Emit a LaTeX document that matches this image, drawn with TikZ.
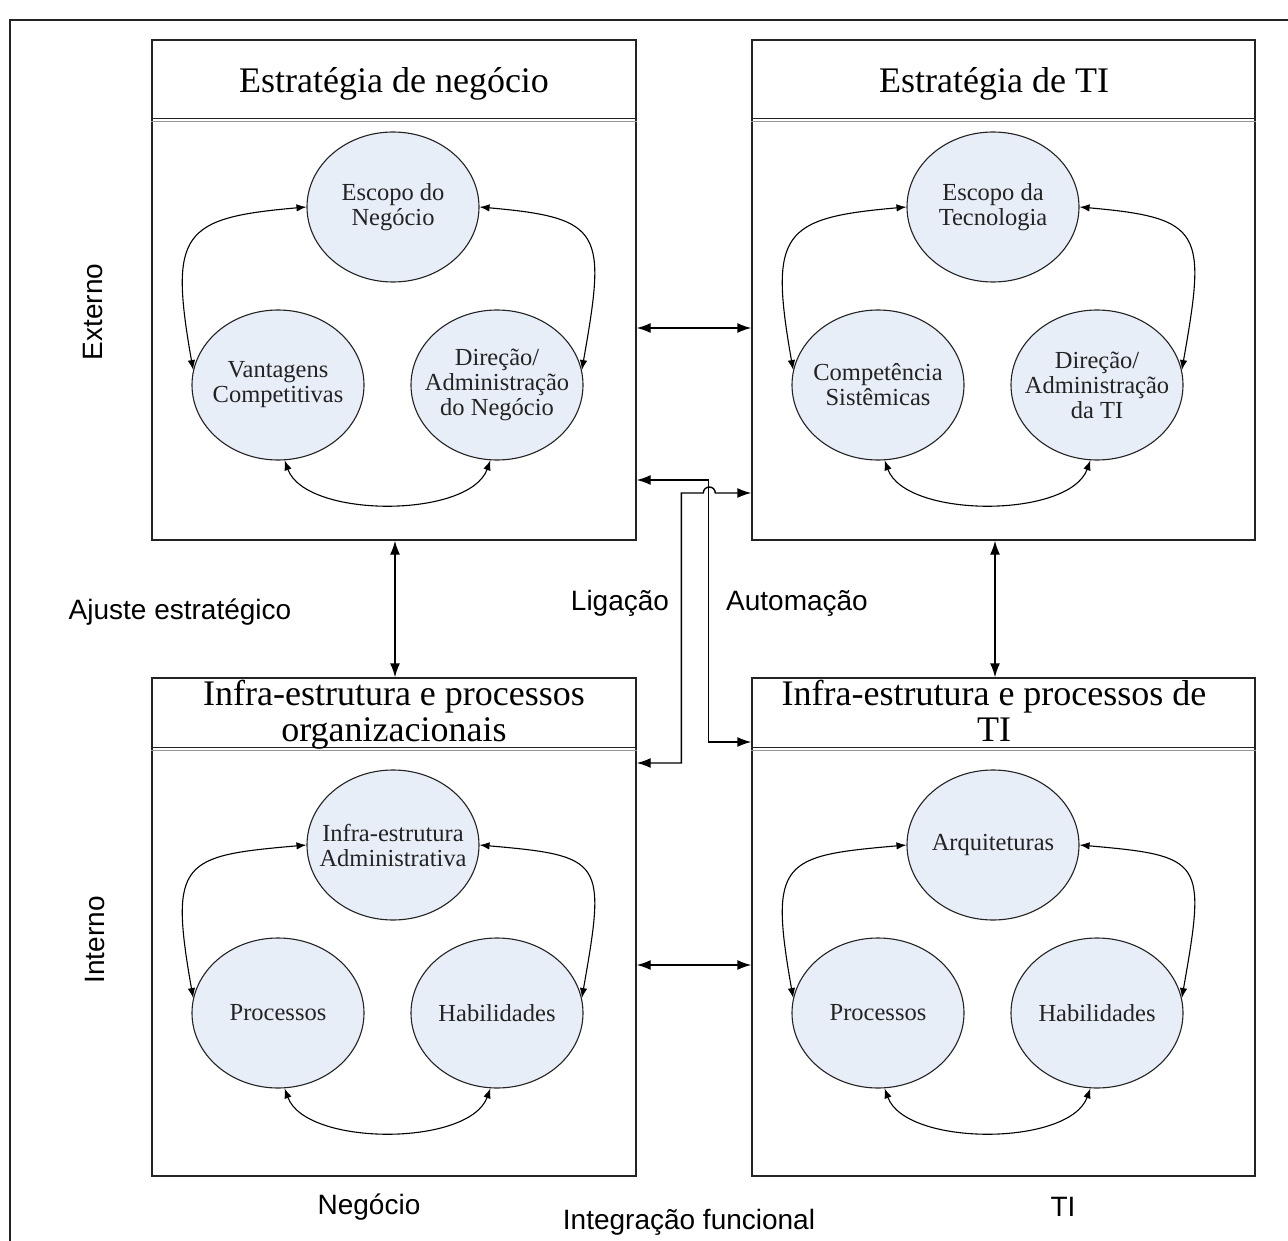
\documentclass[tikz,border=0pt]{standalone}
\usepackage{fontspec}
\setmainfont{Liberation Serif}
\newfontfamily\labelfont{Liberation Sans}
\usetikzlibrary{shapes.geometric,arrows.meta,calc}
\definecolor{bubblefill}{RGB}{232,238,247}
\definecolor{ink}{RGB}{35,35,35}
\definecolor{shade}{RGB}{150,150,150}
\tikzset{
  panel/.style={rectangle, draw=ink, line width=1.4pt, inner sep=0pt},
  divider/.style={draw=ink, line width=1.3pt},
  divshade/.style={draw=shade, line width=0.8pt},
  frameline/.style={draw=ink, line width=1.5pt},
  bubbletext/.style={align=center, inner sep=0pt, text=ink, font=\fontsize{24.5}{25}\selectfont},
  bubble/.style={ellipse, draw=ink, line width=1.1pt, fill=bubblefill,
    minimum width=172pt, minimum height=150pt, inner sep=0pt},
  cyc/.style={line width=1.1pt, {Latex[length=10pt,width=7.5pt]}-{Latex[length=10pt,width=7.5pt]}},
  conn/.style={line width=1.4pt, {Latex[length=14pt,width=10pt]}-{Latex[length=14pt,width=10pt]}},
  headtext/.style={align=center, inner sep=0pt, font=\fontsize{36}{36}\selectfont},
  tag/.style={inner sep=0pt, font=\labelfont\fontsize{28}{30}\selectfont},
  pics/triad/.style n args={4}{code={
    \node[bubble, label={[bubbletext]center:{#1}}] (-t) at (0,0) {};
    \node[bubble, label={[bubbletext]center:{#2}}] (-l) at (-115,-#4) {};
    \node[bubble, label={[bubbletext]center:{#3}}] (-r) at (104,-#4) {};
    \draw[cyc] (-t.180) .. controls +(185:125) and +(100:140) .. (-l.170);
    \draw[cyc] (-t.0) .. controls +(-5:125) and +(80:140) .. (-r.10);
    \draw[cyc] (-l.-85) .. controls +(-70:62) and +(-110:62) .. (-r.-95);
  }}
}
\begin{document}
\begin{tikzpicture}[x=1pt,y=1pt]
\useasboundingbox (0,0) rectangle (1288,-1241);
\fill[white] (0,0) rectangle (1288,-1241);

% outer frame (top and left edges)
\draw[frameline] (10,-1241) -- (10,-20) -- (1288,-20);

% the four panels
\node[panel, minimum width=484pt, minimum height=500pt] (tl) at (394,-290) {};
\node[panel, minimum width=503pt, minimum height=500pt] (tr) at (1003.5,-290) {};
\node[panel, minimum width=484pt, minimum height=498pt] (bl) at (394,-927) {};
\node[panel, minimum width=503pt, minimum height=498pt] (br) at (1003.5,-927) {};

% header dividers
\foreach \b/\d in {tl/79pt, tr/79pt, bl/70pt, br/70pt}{
  \draw[divider] ([yshift=-\d]\b.north west) -- ([yshift=-\d]\b.north east);
  \draw[divshade] ([yshift=-\d-3pt]\b.north west) -- ([yshift=-\d-3pt]\b.north east);
}

% header titles
\node[headtext, anchor=base] (tlh) at (394,-93) {Estratégia de negócio};
\node[headtext, anchor=base] (trh) at (994,-93) {Estratégia de TI};
\node[headtext, anchor=base] (blh) at (394,-741) {Infra-estrutura e processos\\organizacionais};
\node[headtext, anchor=base] (brh) at (994,-741) {Infra-estrutura e processos de\\TI};

% the circle triads
\pic (tlc) at (393,-207) {triad={Escopo do\\Negócio}{Vantagens\\Competitivas}{Direção/\\Administração\\do Negócio}{178}};
\pic (trc) at (993,-207) {triad={Escopo da\\Tecnologia}{Competência\\Sistêmicas}{Direção/\\Administração\\da TI}{178}};
\pic (blc) at (393,-845) {triad={Infra-estrutura\\Administrativa}{Processos}{Habilidades}{168}};
\pic (brc) at (993,-845) {triad={Arquiteturas}{Processos}{Habilidades}{168}};

% links between panels
\draw[conn] ([yshift=-38pt]tl.east) -- ([yshift=-38pt]tr.west);
\draw[conn] ([yshift=-38pt]bl.east) -- ([yshift=-38pt]br.west);
\draw[conn] ([xshift=1pt]tl.south) -- ([xshift=1pt]bl.north);
\draw[conn] ([xshift=-8.5pt]tr.south) -- ([xshift=-8.5pt]br.north);

% cross links (automation and linkage)
\draw[conn] ([yshift=-190pt]tl.east) -- ++(72,0) |- ([yshift=185pt]br.west);
\draw[conn] ([yshift=-203pt]tr.west) -- ++(-36,0)
  arc[start angle=0, end angle=180, radius=6] -- ++(-22,0) |- ([yshift=164pt]bl.east);

% axis labels
\node[tag, rotate=90] (ext) at (93,-312) {Externo};
\node[tag, rotate=90] (int) at (95,-940) {Interno};
\node[tag] (fit) at (180,-612) {Ajuste estratégico};
\node[tag] (lig) at (620,-603) {Ligação};
\node[tag] (aut) at (797,-603) {Automação};
\node[tag] (neg) at (369,-1207) {Negócio};
\node[tag] (tix) at (1063,-1207) {TI};
\node[tag] (intf) at (689,-1222) {Integração funcional};
\end{tikzpicture}
\end{document}
